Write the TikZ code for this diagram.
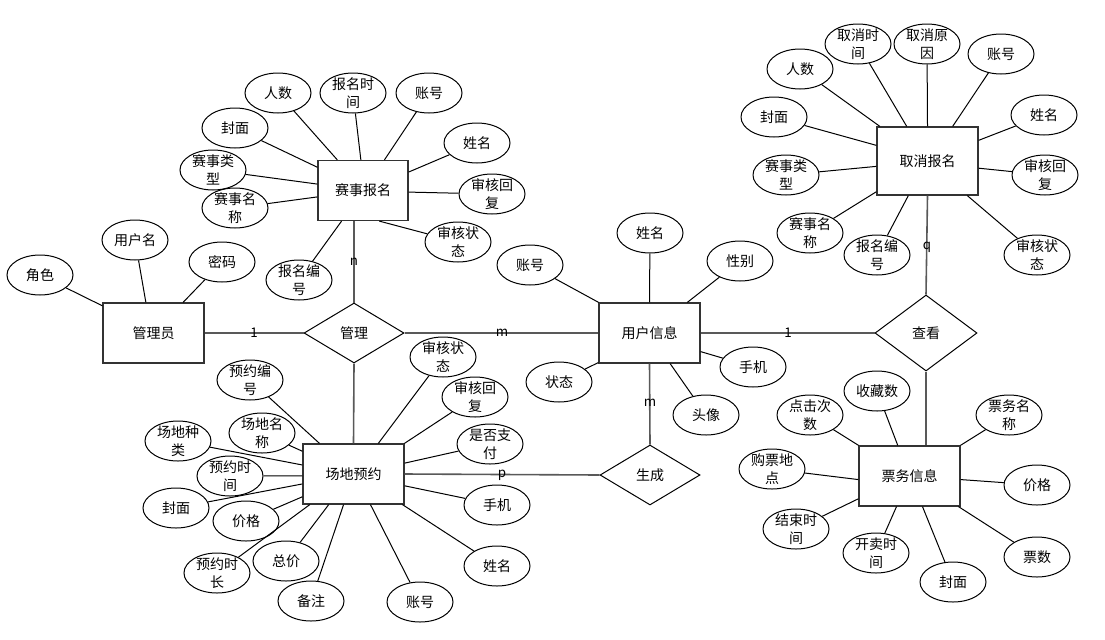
\documentclass[tikz,border=0pt]{standalone}
\usepackage{fontspec}
\setmainfont{Noto Sans CJK SC}
\usetikzlibrary{shapes.geometric,calc}
\tikzset{
  attr/.style={ellipse, draw, line width=0.75pt, minimum width=49.5pt, minimum height=30pt, inner sep=0pt},
  lbl/.style={font=\fontsize{10.5}{13.5}\selectfont, align=center, inner sep=0pt},
  ent/.style={rectangle, draw=black!80, line width=0.9pt, minimum width=75.75pt, minimum height=45pt, inner sep=0pt, font=\fontsize{10.5}{13}\selectfont},
  rel/.style={diamond, draw, line width=0.75pt, minimum width=75pt, minimum height=45pt, inner sep=0pt, font=\fontsize{10.5}{13}\selectfont},
  al/.style={line width=0.75pt},
  rl/.style={line width=1.2pt, draw=black!65},
  card/.style={font=\fontsize{10}{12}\selectfont, inner sep=0pt}
}
\newcommand\myattr[3]{\node[attr, label={[lbl]center:{#3}}] (#1) at (#2) {};}
\begin{document}
\begin{tikzpicture}[x=0.75pt, y=-0.75pt]
\useasboundingbox (0,0) rectangle (1105,639);
\fill[white] (0,0) rectangle (1105,639);

% entities
\node[ent, minimum width=67.5pt] (sb) at (363,190.5) {赛事报名};
\node[ent] (gly) at (153.5,333) {管理员};
\node[ent] (cd) at (353.5,474) {场地预约};
\node[ent] (yh) at (649.5,333) {用户信息};
\node[ent, minimum height=51pt] (qx) at (927.5,161) {取消报名};
\node[ent] (pw) at (909.5,476) {票务信息};

% relations
\node[rel] (gl) at (354,333) {管理};
\node[rel] (sc) at (650,475) {生成};
\node[rel, minimum width=76.5pt, minimum height=57pt] (ck) at (926,333) {查看};

% 赛事报名 attributes
\myattr{sb1}{278,93}{人数}
\myattr{sb2}{353,93}{报名时\\间}
\myattr{sb3}{429,93}{账号}
\myattr{sb4}{235,128}{封面}
\myattr{sb5}{477,143}{姓名}
\myattr{sb6}{213,170}{赛事类\\型}
\myattr{sb7}{492,194}{审核回\\复}
\myattr{sb8}{235,208}{赛事名\\称}
\myattr{sb9}{458,242}{审核状\\态}
\myattr{sb10}{299,280}{报名编\\号}

% 管理员 attributes
\myattr{g1}{135,240}{用户名}
\myattr{g2}{222,262}{密码}
\myattr{g3}{40,275}{角色}

% 场地预约 attributes
\myattr{c1}{443,357}{审核状\\态}
\myattr{c2}{250,380}{预约编\\号}
\myattr{c3}{475,397}{审核回\\复}
\myattr{c4}{262,433}{场地名\\称}
\myattr{c5}{178,441}{场地种\\类}
\myattr{c6}{490,444}{是否支\\付}
\myattr{c7}{230,476}{预约时\\间}
\myattr{c8}{176,508}{封面}
\myattr{c9}{497,505}{手机}
\myattr{c10}{246,521}{价格}
\myattr{c11}{286,561}{总价}
\myattr{c12}{217,573}{预约时\\长}
\myattr{c13}{497,566}{姓名}
\myattr{c14}{311,601}{备注}
\myattr{c15}{420,602}{账号}

% 用户信息 attributes
\myattr{y1}{650,233}{姓名}
\myattr{y2}{530,265}{账号}
\myattr{y3}{740,261}{性别}
\myattr{y4}{753,367}{手机}
\myattr{y5}{559,382}{状态}
\myattr{y6}{706,415}{头像}

% 取消报名 attributes
\myattr{q1}{858,44}{取消时\\间}
\myattr{q2}{927,44}{取消原\\因}
\myattr{q3}{800,69}{人数}
\myattr{q4}{1001,54}{账号}
\myattr{q5}{774,117}{封面}
\myattr{q6}{1044,115}{姓名}
\myattr{q7}{786,175}{赛事类\\型}
\myattr{q8}{1045,175}{审核回\\复}
\myattr{q9}{810,233}{赛事名\\称}
\myattr{q10}{877,255}{报名编\\号}
\myattr{q11}{1037,255}{审核状\\态}

% 票务信息 attributes
\myattr{p1}{877,391}{收藏数}
\myattr{p2}{810,415}{点击次\\数}
\myattr{p3}{1009,415}{票务名\\称}
\myattr{p4}{772,469}{购票地\\点}
\myattr{p5}{1037,485}{价格}
\myattr{p6}{796,529}{结束时\\间}
\myattr{p7}{876,553}{开卖时\\间}
\myattr{p8}{1037,557}{票数}
\myattr{p9}{953,582}{封面}

% attribute connectors
\draw[al] (sb1) -- (sb.130);
\draw[al] (sb2) -- (sb.94);
\draw[al] (sb3) -- (sb.55);
\draw[al] (sb4) -- (sb.153);
\draw[al] (sb5) -- (sb.22);
\draw[al] (sb6) -- (sb.172);
\draw[al] (sb7) -- (sb.358);
\draw[al] (sb8) -- (sb.188);
\draw[al] (sb9) -- (sb.298);
\draw[al] (sb10) -- (sb.235);

\draw[al] (g1) -- (gly.104);
\draw[al] (g2) -- (gly.46);
\draw[al] (g3) -- (gly.152);

\draw[al] (c1) -- (cd.51);
\draw[al] (c2) -- (cd.138);
\draw[al] (c3) -- (cd.31);
\draw[al] (c4) -- (cd.156);
\draw[al] (c5) -- (cd.170);
\draw[al] (c6) -- (cd.12);
\draw[al] (c7) -- (cd.182);
\draw[al] (c8) -- (cd.191);
\draw[al] (c9) -- (cd.347);
\draw[al] (c10) -- (cd.204);
\draw[al] (c11) -- (cd.231);
\draw[al] (c12) -- (cd.215);
\draw[al] (c13) -- (cd.328);
\draw[al] (c14) -- (cd.252);
\draw[al] (c15) -- (cd.299);

\draw[al] (y1) -- (yh.north);
\draw[al] (y2) -- (yh.149);
\draw[al] (y3) -- (yh.39);
\draw[al] (y4) -- (yh.340);
\draw[al] (y5) -- (yh.210);
\draw[al] (y6) -- (yh.304);

\draw[al] (q1) -- (qx.121);
\draw[al] (q2) -- (qx.north);
\draw[al] (q3) -- (qx.144);
\draw[al] (q4) -- (qx.54);
\draw[al] (q5) -- (qx.163);
\draw[al] (q6) -- (qx.22);
\draw[al] (q7) -- (qx.186);
\draw[al] (q8) -- (qx.352);
\draw[al] (q9) -- (qx.211);
\draw[al] (q10) -- (qx.241);
\draw[al] (q11) -- (qx.319);

\draw[al] (p1) -- (pw.111);
\draw[al] (p2) -- (pw.149);
\draw[al] (p3) -- (pw.31);
\draw[al] (p4) -- (pw.184);
\draw[al] (p5) -- (pw.356);
\draw[al] (p6) -- (pw.204);
\draw[al] (p7) -- (pw.247);
\draw[al] (p8) -- (pw.328);
\draw[al] (p9) -- (pw.293);

% relationship connectors
\draw[rl] (gly.east) -- (gl.west);
\draw[rl] (gl.east) -- (yh.west);
\draw[rl] (gl.north |- sb.south) -- (gl.north);
\draw[rl] (gl.south) -- (cd.north);
\draw[rl] (cd.east) -- (sc.west);
\draw[rl] (yh.south) -- (sc.north);
\draw[rl] (yh.east) -- (ck.west);
\draw[rl] (qx.south) -- (ck.north);
\draw[rl] (ck.south) -- (ck.south |- pw.north);

% cardinalities
\node[card] (k1) at (254,333) {1};
\node[card] (k2) at (502,333) {m};
\node[card] (k3) at (354,262) {n};
\node[card] (k4) at (502,475) {p};
\node[card] (k5) at (650,403) {m};
\node[card] (k6) at (788,333) {1};
\node[card] (k7) at (927,247) {q};
\end{tikzpicture}
\end{document}
